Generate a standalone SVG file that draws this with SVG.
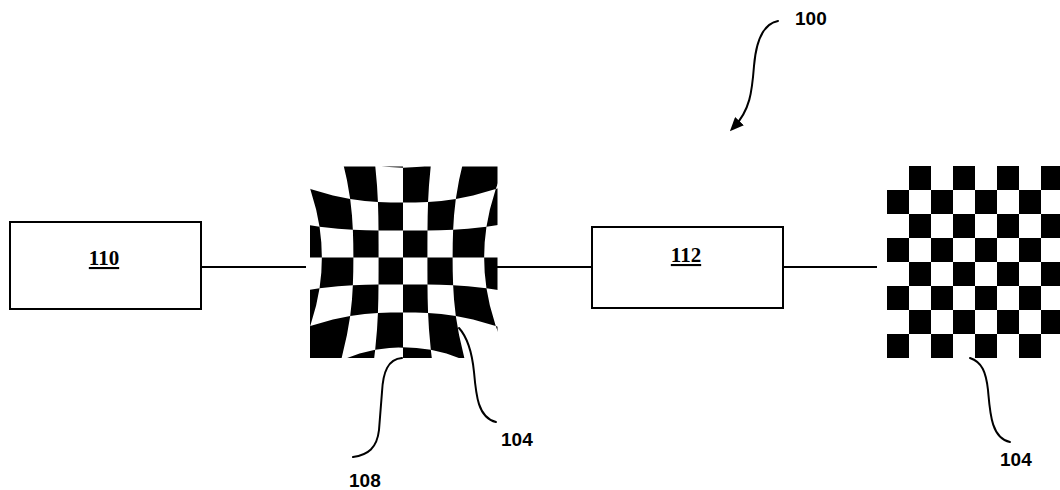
<svg xmlns="http://www.w3.org/2000/svg" width="1060" height="490" viewBox="0 0 1060 490">
  <style>
    .box{fill:#fff;stroke:#000;stroke-width:2}
    .wire{stroke:#000;stroke-width:2;fill:none}
    .lead{stroke:#000;stroke-width:2;fill:none;stroke-linecap:round}
    .ref{font-family:"Liberation Sans",Arial,sans-serif;font-weight:bold;font-size:19px;fill:#000}
    .tag{font-family:"Liberation Serif","Times New Roman",serif;font-weight:bold;font-size:21px;fill:#000;text-anchor:middle;text-decoration:underline}
    .ink{fill:#000}
  </style>
  <defs>
    <!-- frame of the lens-distorted board -->
    <clipPath id="lensFrame"><rect x="310" y="166.5" width="187.5" height="191.5"/></clipPath>
    <marker id="arrowHead" markerUnits="userSpaceOnUse" markerWidth="14" markerHeight="12" viewBox="0 0 14 12" refX="8" refY="6" orient="auto">
      <path d="M0,0 L14,6 L0,12 z" fill="#000"/>
    </marker>
  </defs>

  <rect width="1060" height="490" fill="#fff"/>

  <!-- connectors and reference leaders -->
  <g id="connectors">
    <line class="wire" x1="201" y1="267" x2="306" y2="267"/>
    <line class="wire" x1="497" y1="267" x2="592" y2="267"/>
    <line class="wire" x1="783" y1="267" x2="877" y2="267"/>
    <path class="lead" d="M778,21 C762,24 756,42 754,66 C752,92 750,110 734,127" marker-end="url(#arrowHead)"/>
    <path class="lead" d="M402,358 C388,359 383,372 382,392 L379,430 C377,448 368,455 353,457"/>
    <path class="lead" d="M459,328 C468,338 472,352 474,372 C476,395 478,418 496,422"/>
    <path class="lead" d="M970,358 C982,362 986,372 988,390 C990,412 991,438 1010,442"/>
  </g>

  <g id="node-110">
    <rect class="box" x="10" y="222" width="191" height="87"/>
    <text class="tag" x="104" y="265">110</text>
  </g>

  <g id="node-112">
    <rect class="box" x="592" y="227" width="191" height="81"/>
    <text class="tag" x="686" y="262">112</text>
  </g>

  <!-- pincushion-distorted checkerboard: alternate column strips XOR alternate row strips -->
  <g id="node-distorted-board" clip-path="url(#lensFrame)">
    <path class="ink" fill-rule="evenodd" d="
      M261.2,74.5 L285.2,127.2 L300.6,163.07 L310.26,189.08 L316.13,209.44 L319.55,226.72 L321.32,242.44 L321.86,257.5 L321.32,272.56 L319.55,288.28 L316.13,305.56 L310.26,325.92 L300.6,351.93 L285.2,387.8 L261.2,440.5 L331.33,396.3 L341.17,360.1 L346.94,335.04 L350.2,315.92 L351.96,299.86 L352.86,285.24 L353.27,271.26 L353.39,257.5 L353.27,243.74 L352.86,229.76 L351.96,215.14 L350.2,199.08 L346.94,179.96 L341.17,154.9 L331.33,118.7 Z
      M371.77,136.54 L375.18,165.16 L377.02,185.62 L377.93,202.01 L378.34,216.57 L378.51,230.4 L378.57,243.98 L378.58,257.5 L378.57,271.02 L378.51,284.6 L378.34,298.43 L377.93,312.99 L377.02,329.38 L375.18,349.84 L371.77,378.46 L403,380 L403,136 Z
      M434.23,136.54 L430.82,165.16 L428.98,185.62 L428.07,202.01 L427.66,216.57 L427.49,230.4 L427.43,243.98 L427.42,257.5 L427.43,271.02 L427.49,284.6 L427.66,298.43 L428.07,312.99 L428.98,329.38 L430.82,349.84 L434.23,378.46 L474.67,396.3 L464.83,360.1 L459.06,335.04 L455.8,315.92 L454.04,299.86 L453.14,285.24 L452.73,271.26 L452.61,257.5 L452.73,243.74 L453.14,229.76 L454.04,215.14 L455.8,199.08 L459.06,179.96 L464.83,154.9 L474.67,118.7 Z
      M544.8,74.5 L520.8,127.2 L505.4,163.07 L495.74,189.08 L489.87,209.44 L486.45,226.72 L484.68,242.44 L484.14,257.5 L484.68,272.56 L486.45,288.28 L489.87,305.56 L495.74,325.92 L505.4,351.93 L520.8,387.8 L544.8,440.5 L600,440.5 L600,74.5 Z
      M237.6,100.6 L285.2,127.2 L317.67,144.2 L341.17,154.9 L359.57,161.38 L375.18,165.16 L389.39,167.11 L403,167.7 L416.61,167.11 L430.82,165.16 L446.43,161.38 L464.83,154.9 L488.33,144.2 L520.8,127.2 L568.4,100.6 L528.4,178.19 L495.74,189.08 L473.07,195.47 L455.8,199.08 L441.28,201.02 L428.07,202.01 L415.43,202.47 L403,202.6 L390.57,202.47 L377.93,202.01 L364.72,201.02 L350.2,199.08 L332.93,195.47 L310.26,189.08 L277.6,178.19 Z
      M293.7,222.94 L319.55,226.72 L338.04,228.75 L352.86,229.76 L366.02,230.22 L378.51,230.4 L390.78,230.46 L403,230.48 L415.22,230.46 L427.49,230.4 L439.98,230.22 L453.14,229.76 L467.96,228.75 L486.45,226.72 L512.3,222.94 L520,257.5 L286,257.5 Z
      M293.7,292.06 L319.55,288.28 L338.04,286.25 L352.86,285.24 L366.02,284.78 L378.51,284.6 L390.78,284.54 L403,284.52 L415.22,284.54 L427.49,284.6 L439.98,284.78 L453.14,285.24 L467.96,286.25 L486.45,288.28 L512.3,292.06 L528.4,336.81 L495.74,325.92 L473.07,319.53 L455.8,315.92 L441.28,313.98 L428.07,312.99 L415.43,312.53 L403,312.4 L390.57,312.53 L377.93,312.99 L364.72,313.98 L350.2,315.92 L332.93,319.53 L310.26,325.92 L277.6,336.81 Z
      M237.6,414.4 L285.2,387.8 L317.67,370.8 L341.17,360.1 L359.57,353.62 L375.18,349.84 L389.39,347.89 L403,347.3 L416.61,347.89 L430.82,349.84 L446.43,353.62 L464.83,360.1 L488.33,370.8 L520.8,387.8 L568.4,414.4 L568.4,460 L237.6,460 Z"/>
  </g>

  <!-- regular 8x8 checkerboard -->
  <g id="node-regular-board">
    <path class="ink" d="
      M909,166 h22 v24 h-22z M953,166 h22 v24 h-22z M997,166 h22 v24 h-22z M1041,166 h22 v24 h-22z
      M887,190 h22 v24 h-22z M931,190 h22 v24 h-22z M975,190 h22 v24 h-22z M1019,190 h22 v24 h-22z
      M909,214 h22 v24 h-22z M953,214 h22 v24 h-22z M997,214 h22 v24 h-22z M1041,214 h22 v24 h-22z
      M887,238 h22 v24 h-22z M931,238 h22 v24 h-22z M975,238 h22 v24 h-22z M1019,238 h22 v24 h-22z
      M909,262 h22 v24 h-22z M953,262 h22 v24 h-22z M997,262 h22 v24 h-22z M1041,262 h22 v24 h-22z
      M887,286 h22 v24 h-22z M931,286 h22 v24 h-22z M975,286 h22 v24 h-22z M1019,286 h22 v24 h-22z
      M909,310 h22 v24 h-22z M953,310 h22 v24 h-22z M997,310 h22 v24 h-22z M1041,310 h22 v24 h-22z
      M887,334 h22 v24 h-22z M931,334 h22 v24 h-22z M975,334 h22 v24 h-22z M1019,334 h22 v24 h-22z"/>
  </g>

  <g id="labels">
    <text class="ref" x="795" y="25">100</text>
    <text class="ref" x="501" y="446">104</text>
    <text class="ref" x="349" y="487">108</text>
    <text class="ref" x="1000" y="466">104</text>
  </g>
</svg>
